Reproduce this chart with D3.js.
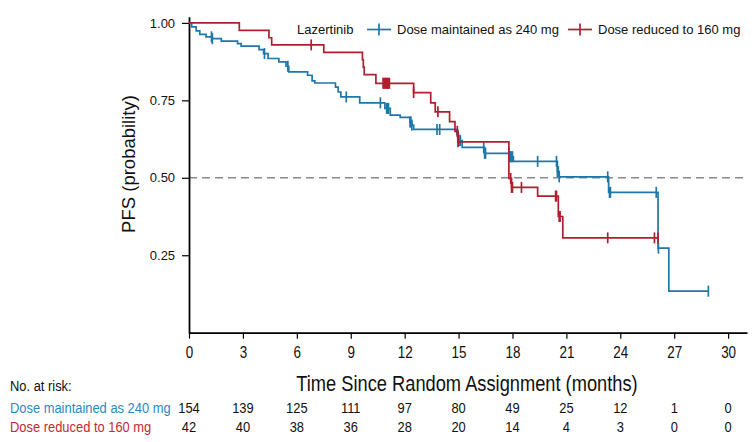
<!DOCTYPE html>
<html><head><meta charset="utf-8">
<script src="https://cdn.jsdelivr.net/npm/d3@7"></script>
<style>
html,body{margin:0;padding:0;background:#fff;}
svg{display:block;}
.reg{font-family:"Liberation Sans",Arial,Helvetica,sans-serif;}
.cond{font-family:"Liberation Sans",Arial,sans-serif;}
</style>
</head><body>
<svg id="chart" width="756" height="442"></svg>
<script>
// ---- data ----
const xTicks = [0, 3, 6, 9, 12, 15, 18, 21, 24, 27, 30];
const yTicks = [0.25, 0.50, 0.75, 1.00];
const seriesNames = ["Dose maintained as 240 mg", "Dose reduced to 160 mg"];
const legendTitle = "Lazertinib";

const blueTimes = [0, 0.15, 0.4, 0.6, 0.95, 1.3, 1.8, 2.7, 2.9, 3.9, 4.15, 4.4, 5.0, 5.4, 5.55, 6.6, 6.85, 7.0, 8.15, 8.3, 8.45, 9.5, 10.9, 11.2, 11.75, 12.3, 12.4, 12.5, 14.9, 15.0, 15.2, 16.45, 17.85, 18.05, 20.5, 20.6, 23.35, 26.1, 26.7];
const blueSurv = [1.0, 0.987, 0.974, 0.963, 0.955, 0.949, 0.941, 0.933, 0.925, 0.914, 0.901, 0.885, 0.874, 0.860, 0.842, 0.831, 0.813, 0.806, 0.793, 0.777, 0.761, 0.742, 0.724, 0.702, 0.695, 0.680, 0.670, 0.656, 0.640, 0.620, 0.598, 0.579, 0.568, 0.553, 0.520, 0.503, 0.453, 0.273, 0.134];
const blueCensor = [1.25, 1.3, 4.2, 5.5, 8.75, 10.65, 11.0, 11.05, 11.1, 12.3, 12.35, 12.4, 13.8, 13.95, 14.95, 15.0, 15.05, 15.1, 16.4, 16.45, 16.5, 17.8, 17.85, 17.9, 17.95, 18.0, 19.4, 20.45, 20.5, 20.55, 20.6, 23.3, 23.4, 23.45, 26.0, 26.12, 28.9];
const blueEnd = 28.9;

const redTimes = [0, 2.8, 4.45, 4.6, 7.5, 9.65, 9.7, 9.75, 10.4, 12.5, 13.45, 13.7, 14.5, 14.8, 14.97, 17.8, 17.95, 19.4, 20.55, 20.8];
const redSurv = [1.0, 0.976, 0.952, 0.929, 0.905, 0.881, 0.857, 0.833, 0.805, 0.775, 0.742, 0.713, 0.681, 0.650, 0.616, 0.498, 0.469, 0.441, 0.375, 0.306];
const redCensor = [6.8, 10.8, 10.85, 10.9, 10.95, 11.0, 11.05, 11.1, 11.15, 12.5, 13.85, 14.93, 14.97, 17.9, 17.95, 18.0, 18.5, 20.4, 20.45, 20.6, 20.65, 23.3, 25.9, 26.1];
const redEnd = 26.1;

const riskBlue = [154, 139, 125, 111, 97, 80, 49, 25, 12, 1, 0];
const riskRed = [42, 40, 38, 36, 28, 20, 14, 4, 3, 0, 0];

// ---- styles ----
const BLUE = "#1f77a8", RED = "#b01f2e";
const BLUE_TXT = "#2b8ac2", RED_TXT = "#bf2a36";
const COND = 0.84;

const svg = d3.select("#chart");
const x = d3.scaleLinear().domain([0, 31.05]).range([189, 747]);
const y = d3.scaleLinear().domain([0, 1.02]).range([332.7, 16.7]);

// reference line at 0.5
svg.append("line").attr("x1", x(0)).attr("x2", x(31.05))
  .attr("y1", y(0.5)).attr("y2", y(0.5))
  .attr("stroke", "#8a8a8a").attr("stroke-width", 1.6).attr("stroke-dasharray", "8,5");

// axes
const xAxis = d3.axisBottom(x).tickValues(xTicks).tickSize(6).tickSizeOuter(0).tickFormat(d3.format("d"));
const gx = svg.append("g").attr("transform", `translate(0,${y(0)})`).call(xAxis);
gx.select(".domain").attr("stroke", "#000").attr("stroke-width", 1.8);
gx.selectAll(".tick line").attr("stroke", "#000").attr("stroke-width", 1.2);
gx.selectAll(".tick text").attr("class", "cond").attr("font-size", 16).attr("fill", "#111")
  .attr("y", 0).attr("dy", 0).attr("transform", `translate(0,25) scale(${COND},1)`);

const yAxis = d3.axisLeft(y).tickValues(yTicks).tickSize(7).tickSizeOuter(0).tickFormat(d3.format(".2f"));
const gy = svg.append("g").attr("transform", `translate(${x(0)},0)`).call(yAxis);
gy.select(".domain").attr("stroke", "#000").attr("stroke-width", 1.8);
gy.selectAll(".tick line").attr("stroke", "#000").attr("stroke-width", 1.2);
gy.selectAll(".tick text").attr("class", "reg").attr("font-size", 13).attr("fill", "#111").attr("dx", "-0.3em");

// y title
svg.append("text").attr("class", "reg").attr("font-size", 18.5).attr("fill", "#111")
  .attr("text-anchor", "middle")
  .attr("transform", `translate(135,164) rotate(-90)`)
  .text("PFS (probability)");

// x title
svg.append("text").attr("class", "cond").attr("font-size", 21.5).attr("fill", "#111")
  .attr("text-anchor", "middle")
  .attr("transform", `translate(467,391) scale(0.85,1)`)
  .text("Time Since Random Assignment (months)");

// step curves
function stepVal(times, surv, t) {
  let v = surv[0];
  for (let i = 0; i < times.length; i++) { if (times[i] <= t) v = surv[i]; }
  return v;
}
function drawSeries(times, surv, censor, end, color) {
  const pts = times.map((t, i) => [t, surv[i]]);
  pts.push([end, surv[surv.length - 1]]);
  const line = d3.line().x(d => x(d[0])).y(d => y(d[1])).curve(d3.curveStepAfter);
  svg.append("path").attr("d", line(pts)).attr("fill", "none")
    .attr("stroke", color).attr("stroke-width", 1.7);
  svg.append("g").selectAll("line").data(censor).join("line")
    .attr("x1", d => x(d)).attr("x2", d => x(d))
    .attr("y1", d => y(stepVal(times, surv, d)) - 5.5)
    .attr("y2", d => y(stepVal(times, surv, d)) + 5.5)
    .attr("stroke", color).attr("stroke-width", 1.7);
}
drawSeries(blueTimes, blueSurv, blueCensor, blueEnd, BLUE);
drawSeries(redTimes, redSurv, redCensor, redEnd, RED);

// legend
const lg = svg.append("g");
lg.append("text").attr("class", "reg").attr("font-size", 13).attr("fill", "#111")
  .attr("x", 297).attr("y", 34).text(legendTitle);
const legItems = [
  {name: seriesNames[0], color: BLUE, x0: 367},
  {name: seriesNames[1], color: RED, x0: 568}
];
legItems.forEach(it => {
  lg.append("line").attr("x1", it.x0).attr("x2", it.x0 + 24).attr("y1", 29.5).attr("y2", 29.5)
    .attr("stroke", it.color).attr("stroke-width", 1.7);
  lg.append("line").attr("x1", it.x0 + 12).attr("x2", it.x0 + 12).attr("y1", 23.5).attr("y2", 35.5)
    .attr("stroke", it.color).attr("stroke-width", 1.7);
  lg.append("text").attr("class", "reg").attr("font-size", 13).attr("fill", "#111")
    .attr("x", it.x0 + 30).attr("y", 34).text(it.name);
});

// risk table
const RFS = 14.5, RSC = 0.89;
svg.append("text").attr("class", "cond").attr("font-size", RFS).attr("fill", "#111")
  .attr("transform", `translate(10,391) scale(${RSC},1)`).text("No. at risk:");
const rows = [
  {name: seriesNames[0], vals: riskBlue, color: BLUE_TXT, yy: 413},
  {name: seriesNames[1], vals: riskRed, color: RED_TXT, yy: 432}
];
rows.forEach(r => {
  svg.append("text").attr("class", "cond").attr("font-size", RFS).attr("fill", r.color)
    .attr("transform", `translate(10,${r.yy}) scale(${RSC},1)`).text(r.name);
  svg.append("g").selectAll("text").data(r.vals).join("text")
    .attr("class", "cond").attr("font-size", RFS).attr("fill", "#111")
    .attr("text-anchor", "middle")
    .attr("transform", (d, i) => `translate(${x(xTicks[i])},${r.yy}) scale(${RSC},1)`)
    .text(d => d);
});
</script>
</body></html>
